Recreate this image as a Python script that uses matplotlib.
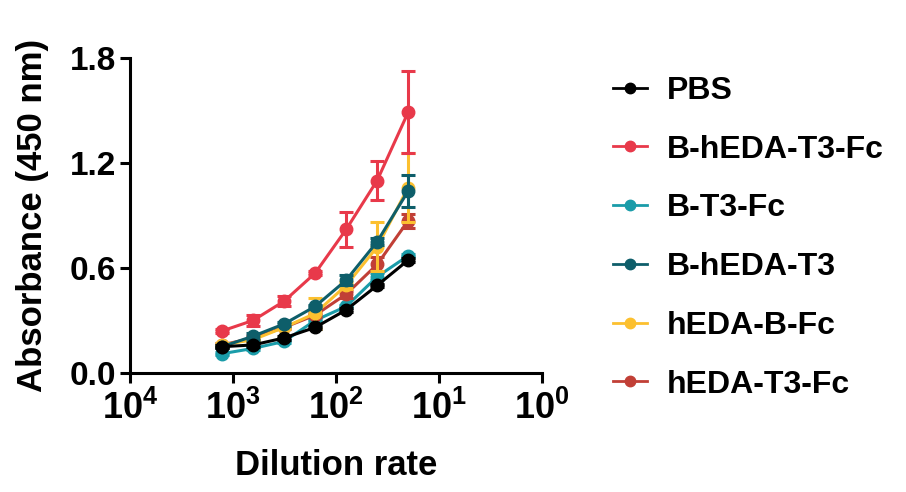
import numpy as np
import matplotlib
matplotlib.use("Agg")
from matplotlib import pyplot as plt
from matplotlib.lines import Line2D

plt.rcParams['font.family'] = ['Liberation Sans', 'DejaVu Sans']
plt.rcParams['font.weight'] = 'bold'
plt.rcParams['mathtext.fontset'] = 'custom'
plt.rcParams['mathtext.rm'] = 'Liberation Sans:bold'
plt.rcParams['mathtext.bf'] = 'Liberation Sans:bold'

# data
dilution = [1280, 640, 320, 160, 80, 40, 20]
names = ['PBS', 'B-hEDA-T3-Fc', 'B-T3-Fc', 'B-hEDA-T3', 'hEDA-B-Fc', 'hEDA-T3-Fc']
colors = ['#000000', '#E8394A', '#1A9CA9', '#0E5E6A', '#FCC02F', '#C13F36']

pbs = [0.15, 0.16, 0.20, 0.26, 0.36, 0.50, 0.645]
pbs_err = [0.01, 0.01, 0.01, 0.01, 0.01, 0.01, 0.01]
b_heda_t3_fc = [0.24, 0.30, 0.41, 0.57, 0.82, 1.10, 1.49]
b_heda_t3_fc_err = [0.01, 0.03, 0.03, 0.01, 0.10, 0.11, 0.235]
b_t3_fc = [0.11, 0.14, 0.18, 0.30, 0.38, 0.55, 0.67]
b_t3_fc_err = [0.01, 0.01, 0.01, 0.01, 0.01, 0.02, 0.01]
b_heda_t3 = [0.15, 0.21, 0.28, 0.38, 0.53, 0.75, 1.04]
b_heda_t3_err = [0.01, 0.02, 0.01, 0.01, 0.03, 0.02, 0.09]
heda_b_fc = [0.16, 0.19, 0.26, 0.34, 0.50, 0.72, 1.06]
heda_b_fc_err = [0.01, 0.01, 0.01, 0.09, 0.02, 0.14, 0.20]
heda_t3_fc = [0.16, 0.20, 0.26, 0.33, 0.45, 0.62, 0.87]
heda_t3_fc_err = [0.01, 0.01, 0.01, 0.01, 0.02, 0.04, 0.04]

series = [pbs, b_heda_t3_fc, b_t3_fc, b_heda_t3, heda_b_fc, heda_t3_fc]
errors = [pbs_err, b_heda_t3_fc_err, b_t3_fc_err, b_heda_t3_err, heda_b_fc_err, heda_t3_fc_err]
zorders = [6, 7, 2, 5, 4, 3]

fig = plt.figure(figsize=(9.06, 4.92), dpi=100)
ax = fig.add_axes([0.1435, 0.242, 0.455, 0.64])

handles = []
for vals, err, c, name, z in zip(series, errors, colors, names, zorders):
    ax.errorbar(dilution, vals, yerr=err, color=c, lw=2.2, marker='o', ms=9,
                capsize=5, capthick=2.2, elinewidth=2.2, zorder=z, clip_on=False)
    handles.append(Line2D([], [], color=c, lw=2.0, marker='o', ms=7.5))

ax.set_xscale('log')
ax.set_xlim(1e4, 1e0)
ax.set_ylim(0, 1.8)
ax.set_yticks([0, 0.6, 1.2, 1.8])
ax.set_yticklabels(['0.0', '0.6', '1.2', '1.8'])
ax.set_xticks([1e4, 1e3, 1e2, 1e1, 1e0])
ax.set_xticklabels([r'$10^{4}$', r'$10^{3}$', r'$10^{2}$', r'$10^{1}$', r'$10^{0}$'])
ax.xaxis.set_minor_locator(matplotlib.ticker.NullLocator())

for s in ['top', 'right']:
    ax.spines[s].set_visible(False)
for s in ['left', 'bottom']:
    ax.spines[s].set_linewidth(2.2)
ax.tick_params(axis='both', width=2.2, length=7)
ax.tick_params(axis='y', labelsize=24, pad=3)
ax.tick_params(axis='x', labelsize=26, pad=6)

ax.set_xlabel('Dilution rate', fontsize=25, fontweight='bold', labelpad=16)
ax.set_ylabel('Absorbance (450 nm)', fontsize=25, fontweight='bold', labelpad=15)

leg = fig.legend(handles=handles, labels=names, loc='upper left',
                 bbox_to_anchor=(0.677, 0.846), frameon=False, fontsize=23,
                 handlelength=1.06, labelspacing=0.9, handletextpad=0.6,
                 borderpad=0, borderaxespad=0)
for t in leg.get_texts():
    t.set_fontweight('bold')

fig.savefig('out.png', dpi=100)
